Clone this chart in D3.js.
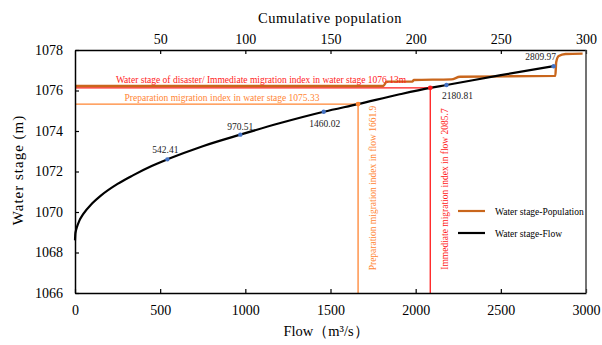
<!DOCTYPE html>
<html lang="en">
<meta charset="utf-8">
<head>
    <script src="https://d3js.org/d3.v7.min.js"></script>
    <style>
        body { margin: 0; background: #fff; }
        svg text { font-family: "Liberation Serif", "Times New Roman", serif; }
    </style>
</head>
<body>
<script>

// water stage - flow curve
var flow  = [0, 2, 5, 10, 25, 50, 100, 150, 250, 340, 450, 542.41, 750, 970.51, 1200, 1460.02, 1661.9, 1900, 2085.7, 2180.81, 2500, 2809.97]
var stage = [1068.6, 1068.92, 1069.06, 1069.22, 1069.56, 1069.92, 1070.42, 1070.8, 1071.39, 1071.81, 1072.27, 1072.6, 1073.25, 1073.82, 1074.38, 1074.95, 1075.33, 1075.8, 1076.13, 1076.27, 1076.76, 1077.2]

// water stage - cumulative population
var pop      = [0, 181, 183, 198, 199, 221, 226, 282, 282.5, 284, 288, 298]
var popStage = [1076.22, 1076.22, 1076.44, 1076.44, 1076.52, 1076.55, 1076.68, 1076.72, 1077.4, 1077.7, 1077.8, 1077.82]

// labelled points on the flow curve
var markFlow  = [542.41, 970.51, 1460.02, 2180.81, 2809.97]
var markStage = [1072.6, 1073.82, 1074.95, 1076.27, 1077.2]

// migration indices
var prepFlow = 1661.9, prepStage = 1075.33
var immFlow = 2085.7, immStage = 1076.13

var flowTicks  = [0, 500, 1000, 1500, 2000, 2500, 3000]
var popTicks   = [50, 100, 150, 200, 250, 300]
var stageTicks = [1066, 1068, 1070, 1072, 1074, 1076, 1078]

var W = 602, H = 345
var L = 75, R = 586, T = 50, B = 293
var serif = "Liberation Serif, Times New Roman, serif"

var svg = d3.select("body").append("svg")
    .attr("width", W)
    .attr("height", H)
    .attr("font-family", serif)

var x = d3.scaleLinear().domain([0, 3000]).range([L, R])
var xTop = d3.scaleLinear().domain([0, 300]).range([L, R])
var y = d3.scaleLinear().domain([1066, 1078]).range([B, T])

var red = "#ff1a1a", orange = "#ff8533", brown = "#c9661c", blue = "#4472c4"

// migration index lines
svg.append("path")
    .attr("fill", "none").attr("stroke", orange).attr("stroke-width", 1.3)
    .attr("d", d3.line()([[x(0), y(prepStage)], [x(prepFlow), y(prepStage)], [x(prepFlow), y(1066)]]))
svg.append("path")
    .attr("fill", "none").attr("stroke", red).attr("stroke-width", 1.3)
    .attr("d", d3.line()([[x(0), y(immStage)], [x(immFlow), y(immStage)], [x(immFlow), y(1066)]]))

// population curve
var popData = pop.map(function(d, i) { return [d, popStage[i]] })
svg.append("path")
    .datum(popData)
    .attr("fill", "none")
    .attr("stroke", brown)
    .attr("stroke-width", 2.4)
    .attr("d", d3.line()
        .x(function(d) { return xTop(d[0]) })
        .y(function(d) { return y(d[1]) })
        .curve(d3.curveMonotoneX))

// flow curve
var flowData = flow.map(function(d, i) { return [d, stage[i]] })
svg.append("path")
    .datum(flowData)
    .attr("fill", "none")
    .attr("stroke", "#000")
    .attr("stroke-width", 2.2)
    .attr("d", d3.line()
        .x(function(d) { return x(d[0]) })
        .y(function(d) { return y(d[1]) })
        .curve(d3.curveMonotoneX))

// points
svg.selectAll(".mark")
    .data(markFlow)
    .enter().append("circle")
    .attr("cx", function(d) { return x(d) })
    .attr("cy", function(d, i) { return y(markStage[i]) })
    .attr("r", 2.2)
    .attr("fill", blue)
svg.append("circle").attr("cx", x(prepFlow)).attr("cy", y(prepStage)).attr("r", 2.4).attr("fill", orange)
svg.append("circle").attr("cx", x(immFlow)).attr("cy", y(immStage)).attr("r", 2.4).attr("fill", red)

var labelDx = [-2, 0, 1, 11, -13]
var labelDy = [-6, -5, 15, 14, -6]
svg.selectAll(".mlab")
    .data(markFlow)
    .enter().append("text")
    .attr("x", function(d, i) { return x(d) + labelDx[i] })
    .attr("y", function(d, i) { return y(markStage[i]) + labelDy[i] })
    .attr("text-anchor", "middle")
    .attr("font-size", 9.5)
    .attr("fill", "#222")
    .text(function(d) { return d3.format(".2f")(d) })

// annotations
svg.append("text")
    .attr("x", 261).attr("y", y(immStage) - 5)
    .attr("text-anchor", "middle").attr("font-size", 9.5).attr("fill", red)
    .text("Water stage of disaster/ Immediate migration index in water stage " + immStage + "m")
svg.append("text")
    .attr("x", 222).attr("y", y(prepStage) - 3)
    .attr("text-anchor", "middle").attr("font-size", 9.5).attr("fill", orange)
    .text("Preparation migration index in water stage " + prepStage)
svg.append("text")
    .attr("transform", "translate(" + (x(prepFlow) + 18) + "," + 188 + ") rotate(-90)")
    .attr("text-anchor", "middle").attr("font-size", 9.5).attr("fill", orange)
    .text("Preparation migration index in flow " + prepFlow)
svg.append("text")
    .attr("transform", "translate(" + (x(immFlow) + 18) + "," + 189 + ") rotate(-90)")
    .attr("text-anchor", "middle").attr("font-size", 9.5).attr("fill", red)
    .text("Immediate migration index in flow " + immFlow)

// axes
var xAxis = svg.append("g")
    .attr("transform", "translate(0," + B + ")")
    .call(d3.axisBottom(x).tickValues(flowTicks).tickFormat(d3.format("d")).tickSize(-4).tickSizeOuter(0).tickPadding(12))
var yAxis = svg.append("g")
    .attr("transform", "translate(" + L + ",0)")
    .call(d3.axisLeft(y).tickValues(stageTicks).tickFormat(d3.format("d")).tickSize(-4).tickSizeOuter(0).tickPadding(12))
var topAxis = svg.append("g")
    .attr("transform", "translate(0," + T + ")")
    .call(d3.axisTop(xTop).tickValues(popTicks).tickFormat(d3.format("d")).tickSize(-4).tickSizeOuter(0).tickPadding(6))
svg.append("line")
    .attr("x1", R).attr("x2", R).attr("y1", T).attr("y2", B)
    .attr("stroke", "#444").attr("stroke-width", 1.5)

;[xAxis, yAxis, topAxis].forEach(function(g) {
    g.attr("font-family", serif).attr("font-size", 14)
    g.select(".domain").attr("stroke", "#000").attr("stroke-width", 1.5)
    g.selectAll(".tick line").attr("stroke", "#000").attr("stroke-width", 1.2)
    g.selectAll(".tick text").attr("fill", "#000")
})

// axis titles
svg.append("text")
    .attr("x", 330).attr("y", 23)
    .attr("text-anchor", "middle").attr("font-size", 14.5)
    .attr("letter-spacing", 0.5)
    .text("Cumulative population")
svg.append("text")
    .attr("x", 326).attr("y", 336)
    .attr("text-anchor", "middle").attr("font-size", 14.5)
    .text("Flow（m³/s）")
svg.append("text")
    .attr("transform", "translate(23,170) rotate(-90)")
    .attr("text-anchor", "middle").attr("font-size", 15)
    .attr("letter-spacing", 1)
    .text("Water stage (m)")

// legend
var legNames = ["Water stage-Population", "Water stage-Flow"]
var legColors = [brown, "#000"]
var leg = svg.selectAll(".leg")
    .data(legNames)
    .enter().append("g")
    .attr("transform", function(d, i) { return "translate(458," + (211 + i * 22) + ")" })
leg.append("line")
    .attr("x1", 0).attr("x2", 27)
    .attr("stroke", function(d, i) { return legColors[i] })
    .attr("stroke-width", 2.2)
leg.append("text")
    .attr("x", 37).attr("y", 3.5)
    .attr("font-size", 9.5)
    .text(function(d) { return d })

</script>
</body>
</html>
